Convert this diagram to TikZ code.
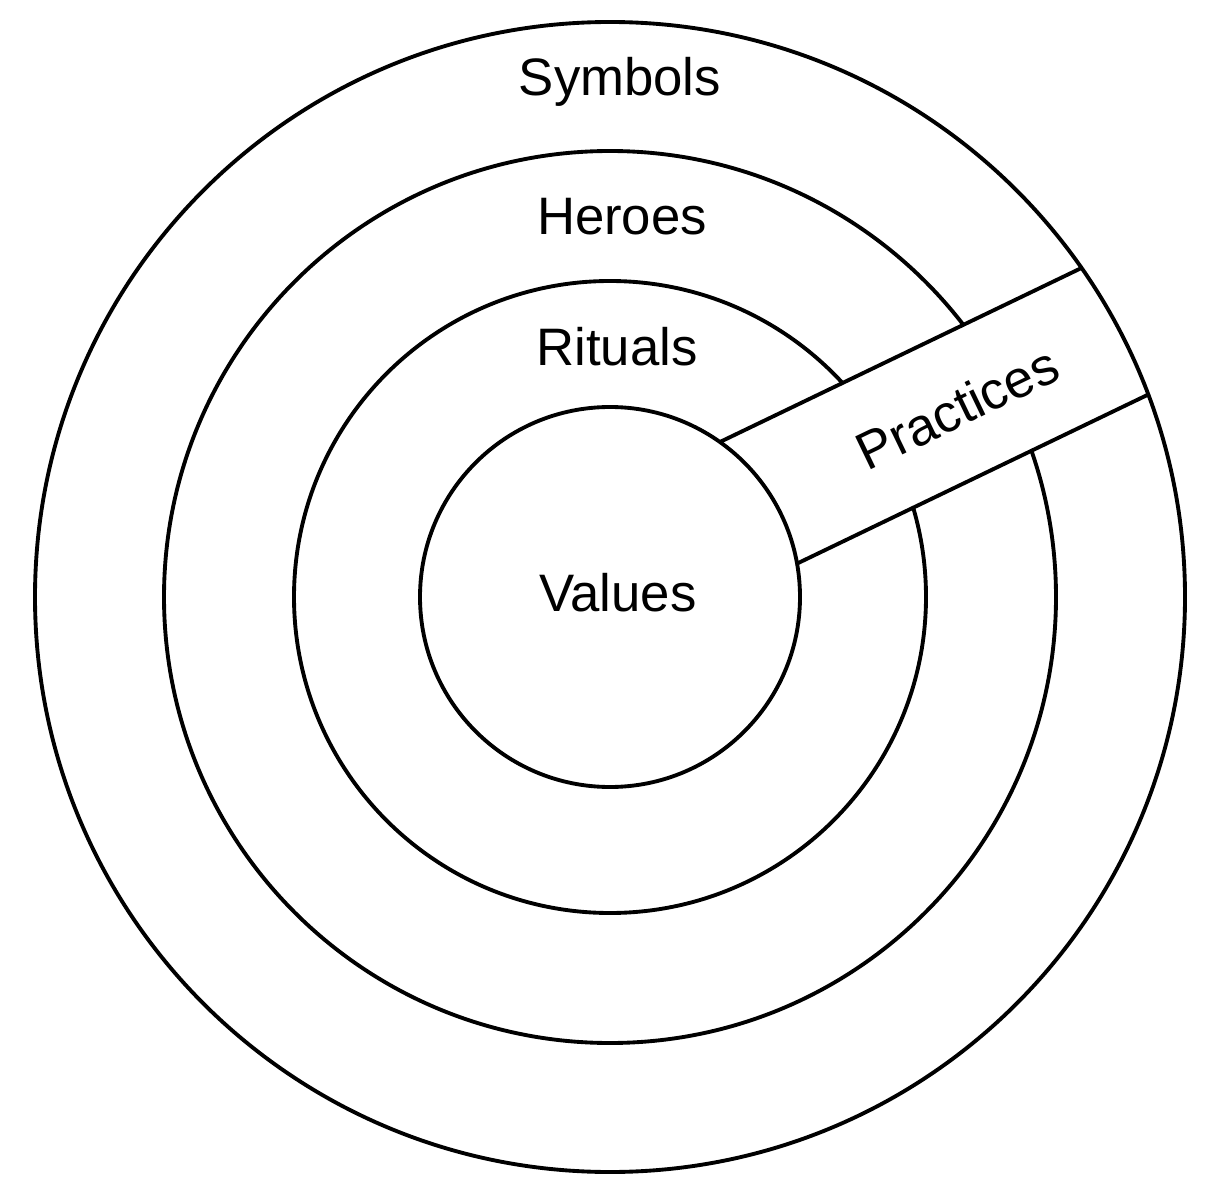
\documentclass[tikz,border=0pt]{standalone}
\usepackage{fontspec}
\setmainfont{Liberation Sans}
\tikzset{
  ring/.style={circle, draw, line width=1.1pt, inner sep=0pt},
  lbl/.style={font=\fontsize{15}{18}\selectfont}
}
\begin{document}
\begin{tikzpicture}
  \useasboundingbox (0,0) rectangle (12.21,12);
  \coordinate (c) at (6.10,6.03);
  \node[ring, minimum size=8.92cm] (heroring) at (c) {};
  \node[ring, minimum size=6.32cm] (ritualring) at (c) {};
  % practices band
  \begin{scope}
    \clip (c) circle (5.75cm);
    \begin{scope}[shift={(c)}, rotate=25.7]
      \fill[white] (0,-0.51) rectangle (6,0.92);
      \draw[line width=1.1pt] (0,0.92) -- (6,0.92);
      \draw[line width=1.1pt] (0,-0.51) -- (6,-0.51);
    \end{scope}
  \end{scope}
  \node[ring, fill=white, minimum size=3.8cm] (valuering) at (c) {};
  \node[ring, minimum size=11.5cm] (symbolring) at (c) {};
  \node[lbl] (symbols) at (6.20,11.18) {Symbols};
  \node[lbl] (heroes) at (6.22,9.83) {Heroes};
  \node[lbl] (rituals) at (6.17,8.53) {Rituals};
  \node[lbl] (values) at (6.18,6.07) {Values};
  \node[lbl, rotate=25.7] (practices) at (9.57,7.92) {Practices};
\end{tikzpicture}
\end{document}
